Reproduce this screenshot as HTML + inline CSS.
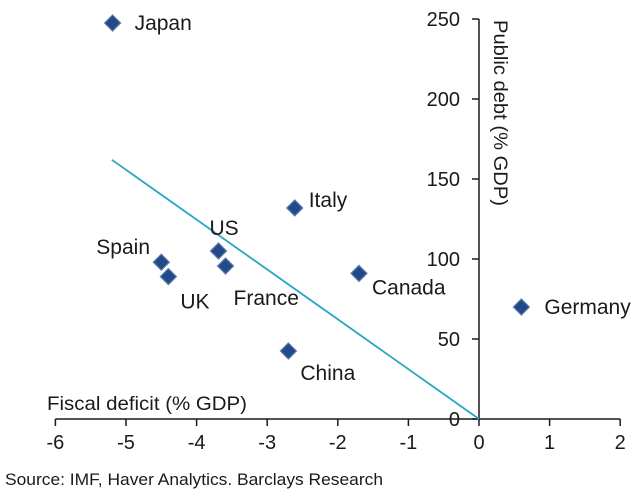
<!DOCTYPE html>
<html><head><meta charset="utf-8"><style>
body{margin:0;background:#fff}
svg text{font-family:"Liberation Sans",sans-serif;fill:#1a1a1a}
</style></head><body>
<svg id="chart" width="640" height="496" viewBox="0 0 640 496" xmlns="http://www.w3.org/2000/svg">
<g id="axes"></g>
<g id="marks"></g>
<text x="47" y="410" font-size="19.5" textLength="200" lengthAdjust="spacingAndGlyphs">Fiscal deficit (% GDP)</text>
<text transform="translate(494,20) rotate(90)" font-size="19.5" textLength="186" lengthAdjust="spacingAndGlyphs">Public debt (% GDP)</text>
<text x="5" y="485" font-size="17" textLength="378" lengthAdjust="spacingAndGlyphs">Source: IMF, Haver Analytics. Barclays Research</text>
</svg>
<script>
const countries=["Japan","Italy","US","France","Spain","UK","Canada","Germany","China"];
const deficit=[-5.19,-2.61,-3.69,-3.59,-4.5,-4.4,-1.7,0.6,-2.7];
const debt=[247.5,131.9,105,95.6,98,89,91,70,42.5];
const labelDx=[22,14,-9,8,-65,12,13,23,12];
const labelDy=[7,-1,-16,39,-8,32,21,7,29];
const xTicks=[-6,-5,-4,-3,-2,-1,0,1,2];
const yTicks=[0,50,100,150,200,250];
const trendX=[-5.2,0];
const trendY=[162,0];
const X=v=>479+v*70.6;
const Y=v=>419-v*1.6;
const NS="http://www.w3.org/2000/svg";
function mk(tag,attrs,parent,txt){const e=document.createElementNS(NS,tag);for(const k in attrs)e.setAttribute(k,attrs[k]);if(txt!==undefined)e.textContent=txt;parent.appendChild(e);return e;}
const ax=document.getElementById('axes'),mg=document.getElementById('marks');
let l=mk('line',{x1:X(-6),x2:X(2),y1:Y(0),y2:Y(0),stroke:'#1a1a1a','stroke-width':1.5},ax);


l=mk('line',{x1:X(0),x2:X(0),y1:Y(250),y2:Y(0),stroke:'#1a1a1a','stroke-width':1.5},ax);


xTicks.forEach(t=>{
  const tk=mk('line',{x1:X(t),x2:X(t),y1:Y(0),y2:Y(0)+7,stroke:'#1a1a1a','stroke-width':1.5},ax);
  
  
  const tx=mk('text',{x:X(t),y:Y(0)+30,'font-size':20,'text-anchor':'middle'},ax,String(t));
  
  
});
yTicks.forEach(t=>{
  const tk=mk('line',{x1:X(0)-7,x2:X(0),y1:Y(t),y2:Y(t),stroke:'#1a1a1a','stroke-width':1.5},ax);
  
  
  const tx=mk('text',{x:X(0)-19,y:Y(t)+7,'font-size':20,'text-anchor':'end'},ax,String(t));
  
  
});
const tl=mk('line',{x1:X(trendX[0]),y1:Y(trendY[0]),x2:X(trendX[1]),y2:Y(trendY[1]),stroke:'#2aa6c2','stroke-width':1.8},mg);


countries.forEach((c,i)=>{
  const cx=X(deficit[i]),cy=Y(debt[i]);
  const p=mk('path',{d:`M${cx} ${cy-8}L${cx+8} ${cy}L${cx} ${cy+8}L${cx-8} ${cy}Z`,fill:'#234a86',stroke:'#5a7bb0','stroke-width':1.2},mg);
  
  
  const t=mk('text',{x:cx+labelDx[i],y:cy+labelDy[i],'font-size':21},mg,c);
  
  
});
</script>
</body></html>
